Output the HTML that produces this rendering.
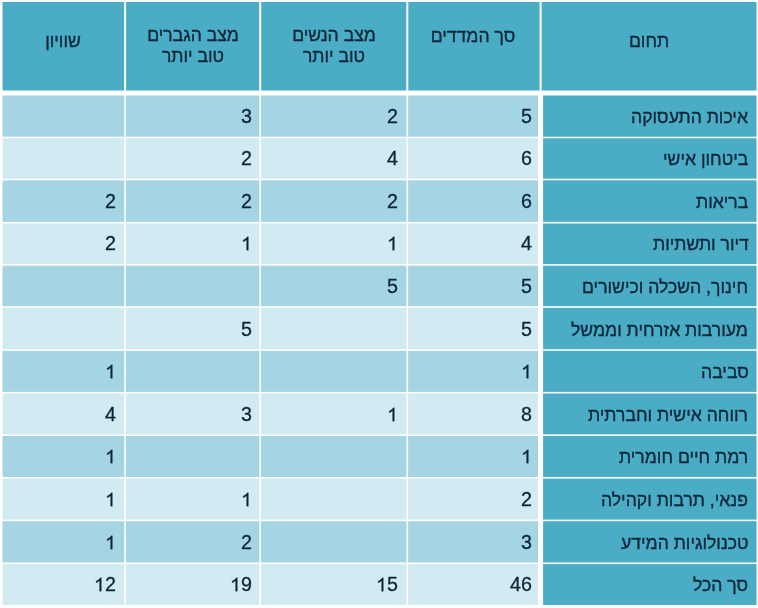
<!DOCTYPE html>
<html><head><meta charset="utf-8">
<style>
html,body{margin:0;padding:0;background:#fff;width:758px;height:608px;overflow:hidden;position:relative}
#bg{position:absolute;left:0;top:0}
.t{position:absolute;font-family:"Liberation Sans",sans-serif;line-height:21px;color:#0c2739;white-space:nowrap;-webkit-text-stroke:0.35px #0c2739;will-change:transform}
.c{text-align:center}
.one{vertical-align:baseline;overflow:visible}
.d{-webkit-text-stroke-width:0.3px}
</style></head><body>
<svg id="bg" width="758" height="608" viewBox="0 0 758 608"><rect x="2.5" y="2" width="121.6" height="88.5" fill="#4BACC6"/><rect x="126.1" y="2" width="133.1" height="88.5" fill="#4BACC6"/><rect x="261.2" y="2" width="145.1" height="88.5" fill="#4BACC6"/><rect x="408.3" y="2" width="131.3" height="88.5" fill="#4BACC6"/><rect x="541.6" y="2" width="214.9" height="88.5" fill="#4BACC6"/><rect x="2.5" y="95.5" width="121.8" height="41.2" fill="#A5D5E2"/><rect x="125.9" y="95.5" width="133.5" height="41.2" fill="#A5D5E2"/><rect x="261" y="95.5" width="145.5" height="41.2" fill="#A5D5E2"/><rect x="408.1" y="95.5" width="130" height="41.2" fill="#A5D5E2"/><rect x="543.1" y="95.5" width="213.4" height="41.2" fill="#4BACC6"/><rect x="2.5" y="138.3" width="121.8" height="40.4" fill="#D2EAF1"/><rect x="125.9" y="138.3" width="133.5" height="40.4" fill="#D2EAF1"/><rect x="261" y="138.3" width="145.5" height="40.4" fill="#D2EAF1"/><rect x="408.1" y="138.3" width="130" height="40.4" fill="#D2EAF1"/><rect x="543.1" y="138.3" width="213.4" height="40.4" fill="#4BACC6"/><rect x="2.5" y="180.3" width="121.8" height="41.6" fill="#A5D5E2"/><rect x="125.9" y="180.3" width="133.5" height="41.6" fill="#A5D5E2"/><rect x="261" y="180.3" width="145.5" height="41.6" fill="#A5D5E2"/><rect x="408.1" y="180.3" width="130" height="41.6" fill="#A5D5E2"/><rect x="543.1" y="180.3" width="213.4" height="41.6" fill="#4BACC6"/><rect x="2.5" y="223.5" width="121.8" height="40.6" fill="#D2EAF1"/><rect x="125.9" y="223.5" width="133.5" height="40.6" fill="#D2EAF1"/><rect x="261" y="223.5" width="145.5" height="40.6" fill="#D2EAF1"/><rect x="408.1" y="223.5" width="130" height="40.6" fill="#D2EAF1"/><rect x="543.1" y="223.5" width="213.4" height="40.6" fill="#4BACC6"/><rect x="2.5" y="265.7" width="121.8" height="40.5" fill="#A5D5E2"/><rect x="125.9" y="265.7" width="133.5" height="40.5" fill="#A5D5E2"/><rect x="261" y="265.7" width="145.5" height="40.5" fill="#A5D5E2"/><rect x="408.1" y="265.7" width="130" height="40.5" fill="#A5D5E2"/><rect x="543.1" y="265.7" width="213.4" height="40.5" fill="#4BACC6"/><rect x="2.5" y="307.8" width="121.8" height="41.45" fill="#D2EAF1"/><rect x="125.9" y="307.8" width="133.5" height="41.45" fill="#D2EAF1"/><rect x="261" y="307.8" width="145.5" height="41.45" fill="#D2EAF1"/><rect x="408.1" y="307.8" width="130" height="41.45" fill="#D2EAF1"/><rect x="543.1" y="307.8" width="213.4" height="41.45" fill="#4BACC6"/><rect x="2.5" y="350.85" width="121.8" height="41.05" fill="#A5D5E2"/><rect x="125.9" y="350.85" width="133.5" height="41.05" fill="#A5D5E2"/><rect x="261" y="350.85" width="145.5" height="41.05" fill="#A5D5E2"/><rect x="408.1" y="350.85" width="130" height="41.05" fill="#A5D5E2"/><rect x="543.1" y="350.85" width="213.4" height="41.05" fill="#4BACC6"/><rect x="2.5" y="393.5" width="121.8" height="40.9" fill="#D2EAF1"/><rect x="125.9" y="393.5" width="133.5" height="40.9" fill="#D2EAF1"/><rect x="261" y="393.5" width="145.5" height="40.9" fill="#D2EAF1"/><rect x="408.1" y="393.5" width="130" height="40.9" fill="#D2EAF1"/><rect x="543.1" y="393.5" width="213.4" height="40.9" fill="#4BACC6"/><rect x="2.5" y="436" width="121.8" height="41" fill="#A5D5E2"/><rect x="125.9" y="436" width="133.5" height="41" fill="#A5D5E2"/><rect x="261" y="436" width="145.5" height="41" fill="#A5D5E2"/><rect x="408.1" y="436" width="130" height="41" fill="#A5D5E2"/><rect x="543.1" y="436" width="213.4" height="41" fill="#4BACC6"/><rect x="2.5" y="478.6" width="121.8" height="41" fill="#D2EAF1"/><rect x="125.9" y="478.6" width="133.5" height="41" fill="#D2EAF1"/><rect x="261" y="478.6" width="145.5" height="41" fill="#D2EAF1"/><rect x="408.1" y="478.6" width="130" height="41" fill="#D2EAF1"/><rect x="543.1" y="478.6" width="213.4" height="41" fill="#4BACC6"/><rect x="2.5" y="521.2" width="121.8" height="41.3" fill="#A5D5E2"/><rect x="125.9" y="521.2" width="133.5" height="41.3" fill="#A5D5E2"/><rect x="261" y="521.2" width="145.5" height="41.3" fill="#A5D5E2"/><rect x="408.1" y="521.2" width="130" height="41.3" fill="#A5D5E2"/><rect x="543.1" y="521.2" width="213.4" height="41.3" fill="#4BACC6"/><rect x="2.5" y="564.1" width="121.8" height="40.9" fill="#D2EAF1"/><rect x="125.9" y="564.1" width="133.5" height="40.9" fill="#D2EAF1"/><rect x="261" y="564.1" width="145.5" height="40.9" fill="#D2EAF1"/><rect x="408.1" y="564.1" width="130" height="40.9" fill="#D2EAF1"/><rect x="543.1" y="564.1" width="213.4" height="40.9" fill="#4BACC6"/></svg>
<div class="t c" dir="rtl" style="top:31px;left:549.05px;width:200px;font-size:17.6px">תחום</div><div class="t c" dir="rtl" style="top:26px;left:372.75px;width:200px;font-size:17.6px">סך המדדים</div><div class="t c" dir="rtl" style="top:25px;left:233.75px;width:200px;font-size:17.6px">מצב הנשים</div><div class="t c" dir="rtl" style="top:46px;left:233.75px;width:200px;font-size:17.6px">טוב יותר</div><div class="t c" dir="rtl" style="top:25px;left:92.65px;width:200px;font-size:17.6px">מצב הגברים</div><div class="t c" dir="rtl" style="top:46px;left:92.65px;width:200px;font-size:17.6px">טוב יותר</div><div class="t c" dir="rtl" style="top:31px;left:-37.5px;width:200px;font-size:17.6px">שוויון</div><div class="t" dir="rtl" style="top:107px;right:9.6px;font-size:17.6px">איכות התעסוקה</div><div class="t d" style="top:106px;right:226.5px;font-size:19.7px">5</div><div class="t d" style="top:106px;right:359.8px;font-size:19.7px">2</div><div class="t d" style="top:106px;right:506px;font-size:19.7px">3</div><div class="t" dir="rtl" style="top:149px;right:9.6px;font-size:17.6px">ביטחון אישי</div><div class="t d" style="top:148px;right:226.5px;font-size:19.7px">6</div><div class="t d" style="top:148px;right:359.8px;font-size:19.7px">4</div><div class="t d" style="top:148px;right:506px;font-size:19.7px">2</div><div class="t" dir="rtl" style="top:192px;right:9.6px;font-size:17.6px">בריאות</div><div class="t d" style="top:191px;right:226.5px;font-size:19.7px">6</div><div class="t d" style="top:191px;right:359.8px;font-size:19.7px">2</div><div class="t d" style="top:191px;right:506px;font-size:19.7px">2</div><div class="t d" style="top:191px;right:642px;font-size:19.7px">2</div><div class="t" dir="rtl" style="top:234px;right:9.6px;font-size:17.6px">דיור ותשתיות</div><div class="t d" style="top:233px;right:226.5px;font-size:19.7px">4</div><div class="t d" style="top:233px;right:359.8px;font-size:19.7px"><svg class="one" width="10.956" height="14.236" viewBox="0 0 1139 1480"><path transform="matrix(1 0 0 -0.95 0 1480)" d="M763 0H583V1147Q518 1085 412 1023Q307 961 223 930V1104Q374 1175 487 1276Q600 1377 647 1472H763V0Z" fill="#0c2739" stroke="#0c2739" stroke-width="31"/></svg></div><div class="t d" style="top:233px;right:506px;font-size:19.7px"><svg class="one" width="10.956" height="14.236" viewBox="0 0 1139 1480"><path transform="matrix(1 0 0 -0.95 0 1480)" d="M763 0H583V1147Q518 1085 412 1023Q307 961 223 930V1104Q374 1175 487 1276Q600 1377 647 1472H763V0Z" fill="#0c2739" stroke="#0c2739" stroke-width="31"/></svg></div><div class="t d" style="top:233px;right:642px;font-size:19.7px">2</div><div class="t" dir="rtl" style="top:277px;right:9.6px;font-size:17.6px">חינוך, השכלה וכישורים</div><div class="t d" style="top:276px;right:226.5px;font-size:19.7px">5</div><div class="t d" style="top:276px;right:359.8px;font-size:19.7px">5</div><div class="t" dir="rtl" style="top:320px;right:9.6px;font-size:17.6px">מעורבות אזרחית וממשל</div><div class="t d" style="top:319px;right:226.5px;font-size:19.7px">5</div><div class="t d" style="top:319px;right:506px;font-size:19.7px">5</div><div class="t" dir="rtl" style="top:362px;right:9.6px;font-size:17.6px">סביבה</div><div class="t d" style="top:361px;right:226.5px;font-size:19.7px"><svg class="one" width="10.956" height="14.236" viewBox="0 0 1139 1480"><path transform="matrix(1 0 0 -0.95 0 1480)" d="M763 0H583V1147Q518 1085 412 1023Q307 961 223 930V1104Q374 1175 487 1276Q600 1377 647 1472H763V0Z" fill="#0c2739" stroke="#0c2739" stroke-width="31"/></svg></div><div class="t d" style="top:361px;right:642px;font-size:19.7px"><svg class="one" width="10.956" height="14.236" viewBox="0 0 1139 1480"><path transform="matrix(1 0 0 -0.95 0 1480)" d="M763 0H583V1147Q518 1085 412 1023Q307 961 223 930V1104Q374 1175 487 1276Q600 1377 647 1472H763V0Z" fill="#0c2739" stroke="#0c2739" stroke-width="31"/></svg></div><div class="t" dir="rtl" style="top:405px;right:9.6px;font-size:17.6px">רווחה אישית וחברתית</div><div class="t d" style="top:404px;right:226.5px;font-size:19.7px">8</div><div class="t d" style="top:404px;right:359.8px;font-size:19.7px"><svg class="one" width="10.956" height="14.236" viewBox="0 0 1139 1480"><path transform="matrix(1 0 0 -0.95 0 1480)" d="M763 0H583V1147Q518 1085 412 1023Q307 961 223 930V1104Q374 1175 487 1276Q600 1377 647 1472H763V0Z" fill="#0c2739" stroke="#0c2739" stroke-width="31"/></svg></div><div class="t d" style="top:404px;right:506px;font-size:19.7px">3</div><div class="t d" style="top:404px;right:642px;font-size:19.7px">4</div><div class="t" dir="rtl" style="top:447px;right:9.6px;font-size:17.6px">רמת חיים חומרית</div><div class="t d" style="top:446px;right:226.5px;font-size:19.7px"><svg class="one" width="10.956" height="14.236" viewBox="0 0 1139 1480"><path transform="matrix(1 0 0 -0.95 0 1480)" d="M763 0H583V1147Q518 1085 412 1023Q307 961 223 930V1104Q374 1175 487 1276Q600 1377 647 1472H763V0Z" fill="#0c2739" stroke="#0c2739" stroke-width="31"/></svg></div><div class="t d" style="top:446px;right:642px;font-size:19.7px"><svg class="one" width="10.956" height="14.236" viewBox="0 0 1139 1480"><path transform="matrix(1 0 0 -0.95 0 1480)" d="M763 0H583V1147Q518 1085 412 1023Q307 961 223 930V1104Q374 1175 487 1276Q600 1377 647 1472H763V0Z" fill="#0c2739" stroke="#0c2739" stroke-width="31"/></svg></div><div class="t" dir="rtl" style="top:490px;right:9.6px;font-size:17.6px">פנאי, תרבות וקהילה</div><div class="t d" style="top:489px;right:226.5px;font-size:19.7px">2</div><div class="t d" style="top:489px;right:506px;font-size:19.7px"><svg class="one" width="10.956" height="14.236" viewBox="0 0 1139 1480"><path transform="matrix(1 0 0 -0.95 0 1480)" d="M763 0H583V1147Q518 1085 412 1023Q307 961 223 930V1104Q374 1175 487 1276Q600 1377 647 1472H763V0Z" fill="#0c2739" stroke="#0c2739" stroke-width="31"/></svg></div><div class="t d" style="top:489px;right:642px;font-size:19.7px"><svg class="one" width="10.956" height="14.236" viewBox="0 0 1139 1480"><path transform="matrix(1 0 0 -0.95 0 1480)" d="M763 0H583V1147Q518 1085 412 1023Q307 961 223 930V1104Q374 1175 487 1276Q600 1377 647 1472H763V0Z" fill="#0c2739" stroke="#0c2739" stroke-width="31"/></svg></div><div class="t" dir="rtl" style="top:533px;right:9.6px;font-size:17.6px">טכנולוגיות המידע</div><div class="t d" style="top:532px;right:226.5px;font-size:19.7px">3</div><div class="t d" style="top:532px;right:506px;font-size:19.7px">2</div><div class="t d" style="top:532px;right:642px;font-size:19.7px"><svg class="one" width="10.956" height="14.236" viewBox="0 0 1139 1480"><path transform="matrix(1 0 0 -0.95 0 1480)" d="M763 0H583V1147Q518 1085 412 1023Q307 961 223 930V1104Q374 1175 487 1276Q600 1377 647 1472H763V0Z" fill="#0c2739" stroke="#0c2739" stroke-width="31"/></svg></div><div class="t" dir="rtl" style="top:575px;right:9.6px;font-size:17.6px">סך הכל</div><div class="t d" style="top:574px;right:226.5px;font-size:19.7px">46</div><div class="t d" style="top:574px;right:359.8px;font-size:19.7px"><svg class="one" width="10.956" height="14.236" viewBox="0 0 1139 1480"><path transform="matrix(1 0 0 -0.95 0 1480)" d="M763 0H583V1147Q518 1085 412 1023Q307 961 223 930V1104Q374 1175 487 1276Q600 1377 647 1472H763V0Z" fill="#0c2739" stroke="#0c2739" stroke-width="31"/></svg>5</div><div class="t d" style="top:574px;right:506px;font-size:19.7px"><svg class="one" width="10.956" height="14.236" viewBox="0 0 1139 1480"><path transform="matrix(1 0 0 -0.95 0 1480)" d="M763 0H583V1147Q518 1085 412 1023Q307 961 223 930V1104Q374 1175 487 1276Q600 1377 647 1472H763V0Z" fill="#0c2739" stroke="#0c2739" stroke-width="31"/></svg>9</div><div class="t d" style="top:574px;right:642px;font-size:19.7px"><svg class="one" width="10.956" height="14.236" viewBox="0 0 1139 1480"><path transform="matrix(1 0 0 -0.95 0 1480)" d="M763 0H583V1147Q518 1085 412 1023Q307 961 223 930V1104Q374 1175 487 1276Q600 1377 647 1472H763V0Z" fill="#0c2739" stroke="#0c2739" stroke-width="31"/></svg>2</div>
</body></html>
